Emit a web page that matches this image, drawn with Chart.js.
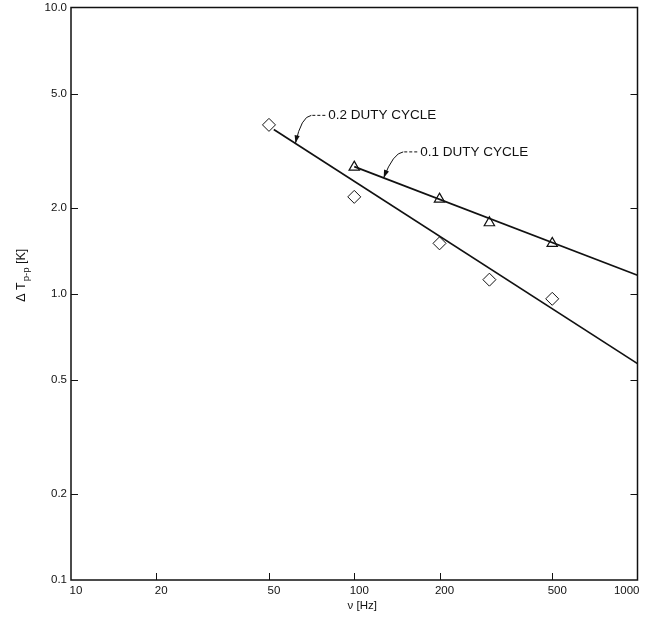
<!DOCTYPE html>
<html>
<head>
<meta charset="utf-8">
<script src="https://cdn.jsdelivr.net/npm/chart.js@4/dist/chart.umd.min.js"></script>
<style>
  html, body { margin: 0; padding: 0; background: #ffffff; }
  #wrap { width: 645px; height: 621px; }
</style>
</head>
<body>
<div id="wrap"><canvas id="c" width="645" height="621"></canvas></div>
<script>
// ---- data ----
const freqDiamond   = [50, 100, 200, 300, 500];          // Hz, 0.2 duty cycle points
const dutyCycle02   = [3.89, 2.18, 1.50, 1.12, 0.96];    // ΔT p-p [K]
const freqTriangle  = [100, 200, 300, 500];              // Hz, 0.1 duty cycle points
const dutyCycle01   = [2.77, 2.14, 1.77, 1.50];          // ΔT p-p [K]
const fit02Freq     = [52, 1000];
const fit02Values   = [3.75, 0.57];
const fit01Freq     = [100, 1000];
const fit01Values   = [2.78, 1.16];
const xTickValues   = [10, 20, 50, 100, 200, 500, 1000];
const yTickValues   = [0.1, 0.2, 0.5, 1, 2, 5, 10];
const annotationLabels = ['0.2 DUTY CYCLE', '0.1 DUTY CYCLE'];

const toPts = (xs, ys) => xs.map((x, i) => ({ x: x, y: ys[i] }));
const fitAt = (xs, ys, x) => {
  const lx0 = Math.log10(xs[0]), lx1 = Math.log10(xs[1]);
  const ly0 = Math.log10(ys[0]), ly1 = Math.log10(ys[1]);
  return Math.pow(10, ly0 + (ly1 - ly0) * (Math.log10(x) - lx0) / (lx1 - lx0));
};

// annotation anchors (data coordinates)
const annotations = [
  { text: annotationLabels[0], x: 81, y: 4.2, arrowX: 62, fx: fit02Freq, fy: fit02Values },
  { text: annotationLabels[1], x: 171, y: 3.13, arrowX: 127, fx: fit01Freq, fy: fit01Values }
];

const FONT = '"Liberation Sans", Arial, Helvetica, sans-serif';
const INK = '#111111';

const framePlugin = {
  id: 'frame',
  afterDatasetsDraw(chart) {
    const ctx = chart.ctx, a = chart.chartArea;
    const xs = chart.scales.x, ys = chart.scales.y;
    ctx.save();
    ctx.strokeStyle = INK;
    ctx.lineWidth = 1.5;
    ctx.strokeRect(a.left, a.top, a.right - a.left, a.bottom - a.top);
    ctx.lineWidth = 1;
    const tl = 7;
    yTickValues.forEach(v => {
      const py = Math.round(ys.getPixelForValue(v)) + 0.5;
      if (v === 0.1 || v === 10) return;
      ctx.beginPath();
      ctx.moveTo(a.left, py); ctx.lineTo(a.left + tl, py);
      ctx.moveTo(a.right, py); ctx.lineTo(a.right - tl, py);
      ctx.stroke();
    });
    xTickValues.forEach(v => {
      if (v === 10 || v === 1000) return;
      const px = Math.round(xs.getPixelForValue(v)) + 0.5;
      ctx.beginPath();
      ctx.moveTo(px, a.bottom); ctx.lineTo(px, a.bottom - tl);
      ctx.stroke();
    });

    // x tick labels (last one kept inside the frame like the reference)
    ctx.font = '11.5px ' + FONT;
    ctx.fillStyle = INK;
    ctx.textBaseline = 'top';
    xTickValues.forEach((v, i) => {
      const px = xs.getPixelForValue(v);
      if (i === xTickValues.length - 1) {
        ctx.textAlign = 'right';
        ctx.fillText(String(v), a.right + 2, a.bottom + 5);
      } else {
        ctx.textAlign = 'center';
        ctx.fillText(String(v), px + 5, a.bottom + 5);
      }
    });
    // x axis title
    ctx.textAlign = 'center';
    ctx.font = '11.5px ' + FONT;
    ctx.fillText('\u03BD [Hz]', (a.left + a.right) / 2 + 8, a.bottom + 20);

    // annotations
    ctx.font = '13.5px ' + FONT;
    ctx.textBaseline = 'middle';
    ctx.textAlign = 'left';
    annotations.forEach(an => {
      const tx = xs.getPixelForValue(an.x);
      const ty = ys.getPixelForValue(an.y);
      ctx.fillText(an.text, tx, ty);
      ctx.setLineDash([3, 2]);
      ctx.beginPath();
      ctx.moveTo(tx - 3, ty); ctx.lineTo(tx - 17, ty);
      ctx.stroke();
      ctx.setLineDash([]);
      const ax = xs.getPixelForValue(an.arrowX);
      const ay = ys.getPixelForValue(fitAt(an.fx, an.fy, an.arrowX));
      const sx = tx - 17, sy = ty;
      const cx = sx - 10, cy = sy + 1;
      ctx.beginPath();
      ctx.moveTo(sx, sy);
      ctx.quadraticCurveTo(cx, cy, ax, ay);
      ctx.stroke();
      const ang = Math.atan2(ay - cy, ax - cx);
      const L = 8, W = 2.6;
      ctx.beginPath();
      ctx.moveTo(ax, ay);
      ctx.lineTo(ax - L * Math.cos(ang) + W * Math.sin(ang), ay - L * Math.sin(ang) - W * Math.cos(ang));
      ctx.lineTo(ax - L * Math.cos(ang) - W * Math.sin(ang), ay - L * Math.sin(ang) + W * Math.cos(ang));
      ctx.closePath();
      ctx.fill();
    });

    // y axis title with subscript
    ctx.save();
    ctx.translate(21, (a.top + a.bottom) / 2 - 18);
    ctx.rotate(-Math.PI / 2);
    ctx.textBaseline = 'alphabetic';
    ctx.textAlign = 'left';
    const p1 = '\u0394 T', p2 = 'p-p', p3 = ' [K]';
    ctx.font = '12.5px ' + FONT;
    const w1 = ctx.measureText(p1).width;
    ctx.font = '9.5px ' + FONT;
    const w2 = ctx.measureText(p2).width;
    ctx.font = '12.5px ' + FONT;
    const w3 = ctx.measureText(p3).width;
    let x0 = -(w1 + w2 + w3) / 2;
    ctx.font = '12.5px ' + FONT;
    ctx.fillText(p1, x0, 4);
    ctx.font = '9.5px ' + FONT;
    ctx.fillText(p2, x0 + w1 + 1, 8);
    ctx.font = '12.5px ' + FONT;
    ctx.fillText(p3, x0 + w1 + w2 + 1, 4);
    ctx.restore();
    ctx.restore();
  }
};

new Chart(document.getElementById('c'), {
  type: 'scatter',
  data: {
    datasets: [
      {
        label: 'fit 0.2', type: 'line', data: toPts(fit02Freq, fit02Values),
        borderColor: INK, borderWidth: 1.7, pointRadius: 0, fill: false
      },
      {
        label: 'fit 0.1', type: 'line', data: toPts(fit01Freq, fit01Values),
        borderColor: INK, borderWidth: 1.7, pointRadius: 0, fill: false
      },
      {
        label: '0.2 duty cycle', data: toPts(freqDiamond, dutyCycle02),
        pointStyle: 'rectRot', pointRadius: 6.5, borderColor: INK, borderWidth: 1,
        backgroundColor: '#ffffff'
      },
      {
        label: '0.1 duty cycle', data: toPts(freqTriangle, dutyCycle01),
        pointStyle: 'triangle', pointRadius: 6, borderColor: INK, borderWidth: 1.2,
        backgroundColor: '#ffffff'
      }
    ]
  },
  options: {
    responsive: false,
    animation: false,
    layout: { padding: { left: 0, right: 5, top: 7, bottom: 0 } },
    plugins: { legend: { display: false }, tooltip: { enabled: false } },
    scales: {
      x: {
        type: 'logarithmic', min: 10, max: 1000,
        grid: { display: false, drawTicks: false },
        border: { display: false },
        afterBuildTicks: s => { s.ticks = xTickValues.map(v => ({ value: v })); },
        afterFit: s => { s.height = 41; s.paddingLeft = 0; s.paddingRight = 0; },
        ticks: { display: false }
      },
      y: {
        type: 'logarithmic', min: 0.1, max: 10,
        grid: { display: false, drawTicks: false },
        border: { display: false },
        afterBuildTicks: s => { s.ticks = yTickValues.map(v => ({ value: v })); },
        afterFit: s => { s.width = 71; s.paddingTop = 0; s.paddingBottom = 0; },
        ticks: {
          color: INK, font: { family: FONT, size: 11.5 }, padding: 4,
          autoSkip: false,
          callback: v => Number(v).toFixed(1)
        }
      }
    }
  },
  plugins: [framePlugin]
});
</script>
</body>
</html>
